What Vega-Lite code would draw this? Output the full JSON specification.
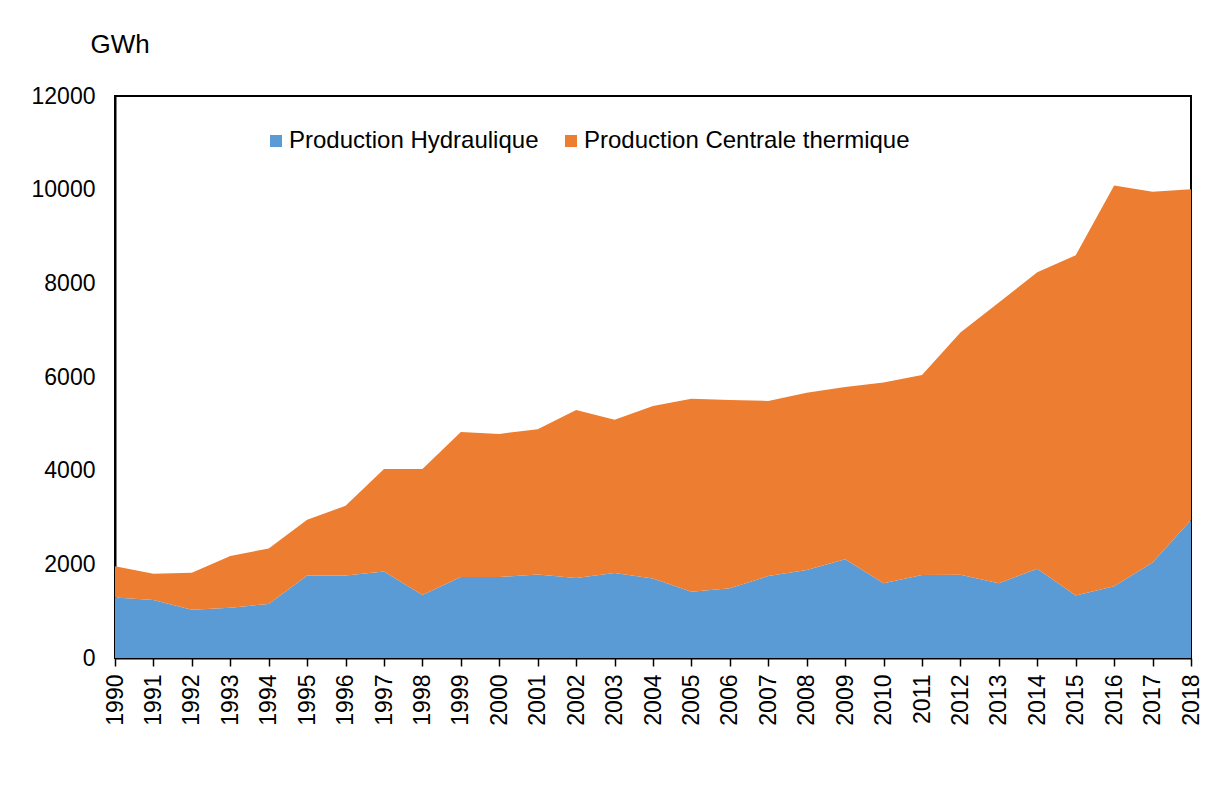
{
  "$schema": "https://vega.github.io/schema/vega-lite/v6.json",
  "autosize": {"type": "none"},
  "padding": {"left": 115, "top": 96, "right": 18, "bottom": 141},
  "width": 1076,
  "height": 562,
  "background": "white",
  "config": {
    "font": "Liberation Sans",
    "view": {"stroke": "#000", "strokeWidth": 2},
    "axis": {"labelFont": "Liberation Sans", "titleFont": "Liberation Sans", "labelColor": "#000", "titleColor": "#000", "grid": false}
  },
  "data": {
    "values": [
      {"year": "1990", "source": "Production Hydraulique", "value": 1290},
      {"year": "1991", "source": "Production Hydraulique", "value": 1240},
      {"year": "1992", "source": "Production Hydraulique", "value": 1030},
      {"year": "1993", "source": "Production Hydraulique", "value": 1075},
      {"year": "1994", "source": "Production Hydraulique", "value": 1155},
      {"year": "1995", "source": "Production Hydraulique", "value": 1760},
      {"year": "1996", "source": "Production Hydraulique", "value": 1760},
      {"year": "1997", "source": "Production Hydraulique", "value": 1845},
      {"year": "1998", "source": "Production Hydraulique", "value": 1345},
      {"year": "1999", "source": "Production Hydraulique", "value": 1730},
      {"year": "2000", "source": "Production Hydraulique", "value": 1730},
      {"year": "2001", "source": "Production Hydraulique", "value": 1785},
      {"year": "2002", "source": "Production Hydraulique", "value": 1710},
      {"year": "2003", "source": "Production Hydraulique", "value": 1815},
      {"year": "2004", "source": "Production Hydraulique", "value": 1700},
      {"year": "2005", "source": "Production Hydraulique", "value": 1415},
      {"year": "2006", "source": "Production Hydraulique", "value": 1490},
      {"year": "2007", "source": "Production Hydraulique", "value": 1750},
      {"year": "2008", "source": "Production Hydraulique", "value": 1880},
      {"year": "2009", "source": "Production Hydraulique", "value": 2110},
      {"year": "2010", "source": "Production Hydraulique", "value": 1595},
      {"year": "2011", "source": "Production Hydraulique", "value": 1770},
      {"year": "2012", "source": "Production Hydraulique", "value": 1780},
      {"year": "2013", "source": "Production Hydraulique", "value": 1595},
      {"year": "2014", "source": "Production Hydraulique", "value": 1905},
      {"year": "2015", "source": "Production Hydraulique", "value": 1335},
      {"year": "2016", "source": "Production Hydraulique", "value": 1530},
      {"year": "2017", "source": "Production Hydraulique", "value": 2040},
      {"year": "2018", "source": "Production Hydraulique", "value": 2945},
      {"year": "1990", "source": "Production Centrale thermique", "value": 670},
      {"year": "1991", "source": "Production Centrale thermique", "value": 560},
      {"year": "1992", "source": "Production Centrale thermique", "value": 790},
      {"year": "1993", "source": "Production Centrale thermique", "value": 1105},
      {"year": "1994", "source": "Production Centrale thermique", "value": 1185},
      {"year": "1995", "source": "Production Centrale thermique", "value": 1190},
      {"year": "1996", "source": "Production Centrale thermique", "value": 1490},
      {"year": "1997", "source": "Production Centrale thermique", "value": 2190},
      {"year": "1998", "source": "Production Centrale thermique", "value": 2690},
      {"year": "1999", "source": "Production Centrale thermique", "value": 3095},
      {"year": "2000", "source": "Production Centrale thermique", "value": 3055},
      {"year": "2001", "source": "Production Centrale thermique", "value": 3100},
      {"year": "2002", "source": "Production Centrale thermique", "value": 3585},
      {"year": "2003", "source": "Production Centrale thermique", "value": 3270},
      {"year": "2004", "source": "Production Centrale thermique", "value": 3680},
      {"year": "2005", "source": "Production Centrale thermique", "value": 4120},
      {"year": "2006", "source": "Production Centrale thermique", "value": 4020},
      {"year": "2007", "source": "Production Centrale thermique", "value": 3740},
      {"year": "2008", "source": "Production Centrale thermique", "value": 3785},
      {"year": "2009", "source": "Production Centrale thermique", "value": 3675},
      {"year": "2010", "source": "Production Centrale thermique", "value": 4285},
      {"year": "2011", "source": "Production Centrale thermique", "value": 4275},
      {"year": "2012", "source": "Production Centrale thermique", "value": 5170},
      {"year": "2013", "source": "Production Centrale thermique", "value": 5995},
      {"year": "2014", "source": "Production Centrale thermique", "value": 6330},
      {"year": "2015", "source": "Production Centrale thermique", "value": 7265},
      {"year": "2016", "source": "Production Centrale thermique", "value": 8560},
      {"year": "2017", "source": "Production Centrale thermique", "value": 7915},
      {"year": "2018", "source": "Production Centrale thermique", "value": 7065}
    ]
  },
  "mark": {"type": "area", "opacity": 1},
  "encoding": {
    "x": {
      "field": "year",
      "type": "ordinal",
      "scale": {"type": "point", "padding": 0},
      "axis": {
        "title": null,
        "labelAngle": -90,
        "labelFontSize": 23,
        "labelPadding": 8,
        "tickSize": 8,
        "tickColor": "#000",
        "tickWidth": 1.5,
        "domainColor": "#000",
        "domainWidth": 2
      }
    },
    "y": {
      "field": "value",
      "type": "quantitative",
      "stack": "zero",
      "scale": {"domain": [0, 12000], "nice": false},
      "axis": {
        "title": "GWh",
        "titleAngle": 0,
        "titleAlign": "left",
        "titleBaseline": "alphabetic",
        "titleX": -25,
        "titleY": -44,
        "titleFontSize": 26,
        "titleFontWeight": "normal",
        "labelFontSize": 23,
        "labelPadding": 20,
        "format": "d",
        "ticks": false,
        "values": [0, 2000, 4000, 6000, 8000, 10000, 12000],
        "domainColor": "#000",
        "domainWidth": 2
      }
    },
    "color": {
      "field": "source",
      "type": "nominal",
      "scale": {
        "domain": ["Production Hydraulique", "Production Centrale thermique"],
        "range": ["#5B9BD5", "#ED7D31"]
      },
      "legend": {
        "title": null,
        "orient": "none",
        "legendX": 149,
        "legendY": 33,
        "direction": "horizontal",
        "symbolType": "square",
        "symbolSize": 144,
        "symbolStrokeWidth": 0,
        "labelFontSize": 24,
        "labelColor": "#000",
        "labelFont": "Liberation Sans",
        "labelOffset": 1,
        "columnPadding": 20,
        "labelLimit": 500
      }
    },
    "order": {"field": "source", "sort": "descending"}
  }
}
